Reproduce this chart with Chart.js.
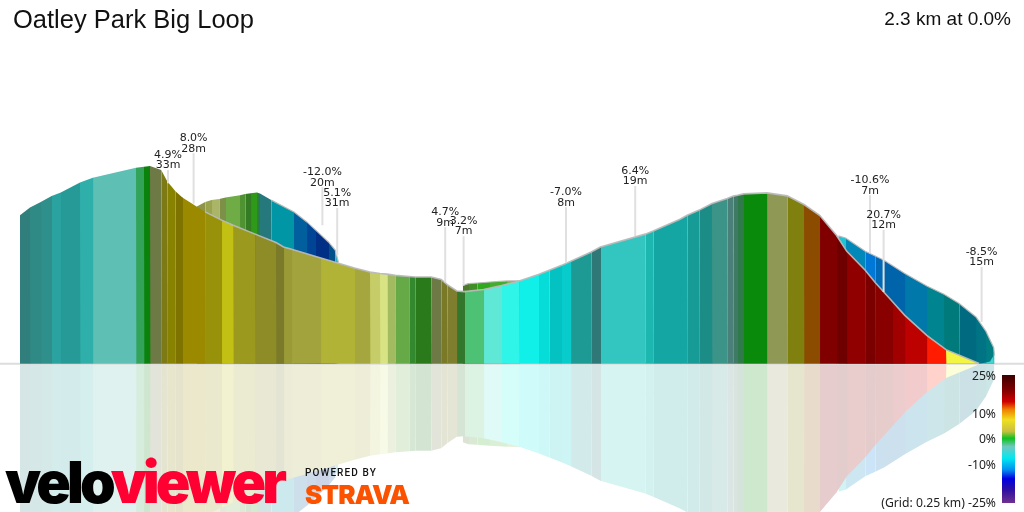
<!DOCTYPE html>
<html>
<head>
<meta charset="utf-8">
<title>Oatley Park Big Loop</title>
<script src="https://cdn.jsdelivr.net/npm/chart.js@4"></script>
<style>
    html, body { margin: 0; padding: 0; background: #fff; }
    #wrap { position: relative; width: 1024px; height: 512px; overflow: hidden; font-family: "Liberation Sans", Arial, sans-serif; }
    #profile { position: absolute; left: 0; top: 0; }
    .txt { position: absolute; white-space: nowrap; }
    #title { left: 13px; top: 5px; font-size: 25.5px; color: #111; }
    #summary { right: 13px; top: 8px; font-size: 19px; color: #111; }
    #colorbar { position: absolute; left: 1002px; top: 375px; width: 13px; height: 128px; }
    .grade { right: 28px; font: 12.2px "Noto Sans", sans-serif; color: #222; transform: translateY(-50%); }
    #logo { left: 5px; top: 447px; font: 900 58px Inter, sans-serif; letter-spacing: -4px; transform-origin: 0 0; transform: scaleX(0.985); }
    #logo .velo { color: #000; }
    #logo .viewer { color: #ff0033; }
    #powered { left: 305px; top: 467px; font: 500 10px Roboto, sans-serif; letter-spacing: 1.1px; color: #111; }
    #strava { left: 305px; top: 479px; font: 900 26px Inter, sans-serif; letter-spacing: -1px; color: #fc5200; }
</style>
</head>
<body>
<div id="wrap">
    <canvas id="profile" width="1024" height="512"></canvas>
    <div class="txt" id="title">Oatley Park Big Loop</div>
    <div class="txt" id="summary">2.3 km at 0.0%</div>
    <div id="colorbar"></div>
    <div class="txt" id="logo"><span class="velo">velo</span><span class="viewer">viewer</span></div>
    <div class="txt" id="powered">POWERED BY</div>
    <div class="txt" id="strava">STRAVA</div>
</div>
<script>
// front half of the loop, distance (m) and height above the base (m) at each colour change
const frontX = [0, 25, 52, 79, 102, 150, 182, 290, 310, 325, 353, 368, 388, 406, 463, 504, 533, 588, 640, 659, 679, 752, 836, 875, 900, 918, 938, 973, 988, 1028, 1053, 1068, 1092, 1111, 1159, 1204, 1248, 1296, 1323, 1354, 1377, 1428, 1451, 1563, 1583, 1650, 1668, 1698, 1730, 1768, 1783, 1794, 1809, 1867, 1918, 1960, 1999, 2041, 2067, 2113, 2138, 2182, 2212, 2267, 2315, 2398];
const frontY = [37.1, 39.05, 40.45, 41.9, 42.8, 45.3, 46.45, 48.95, 49.2, 49.4, 48.4, 45.6, 43.2, 41.55, 37.95, 35.9, 34.6, 32.4, 30.3, 29.2, 28.6, 26.45, 23.95, 22.95, 22.55, 22.4, 22.1, 21.8, 21.7, 21.7, 21.1, 19.8, 18.2, 18.05, 18.55, 19.55, 20.7, 22.3, 23.4, 24.6, 25.6, 27.95, 29.2, 32.4, 33.2, 36.1, 37.1, 38.4, 40.05, 41.3, 41.9, 42.1, 42.45, 42.7, 41.95, 39.8, 37.1, 32.1, 28.1, 23.4, 20.3, 15.45, 12.1, 7.1, 3.55, 0.1];
const frontColors = ["#317f7c", "#2f8a86", "#2f8f8b", "#2aa3a0", "#259a96", "#2fafa9", "#5ebfb5", "#33a35a", "#0b820b", "#6d7a45", "#7d7a16", "#878200", "#7f7300", "#9b8a00", "#98920a", "#c2c013", "#9b9a1f", "#8e8c26", "#7a7a2a", "#9a9a36", "#a3a33d", "#b0b336", "#a5a73e", "#c5cc68", "#d8e484", "#a2bb60", "#65aa46", "#338a2e", "#2a7a1c", "#6d7a45", "#7a7a26", "#7f7e2e", "#32772c", "#4ec274", "#5fe8d6", "#2ff5e8", "#10f0e8", "#06dcd8", "#04c2c2", "#08cccc", "#1e9a94", "#2e7878", "#33c6c0", "#1cb8b0", "#14a6a2", "#14a6a2", "#179b96", "#1c8c86", "#3c9488", "#4a7f7a", "#3f7a66", "#2f7a48", "#0a8a0a", "#8f9854", "#80800e", "#8c4c00", "#800000", "#6e0000", "#900000", "#7a0000", "#880000", "#a00000", "#bd0000", "#ff1c00", "#f2f542"];

// return half of the loop, three pieces that show behind the front
const backAX = [442, 463, 479, 498, 514, 550, 563, 577, 592, 600, 628, 685, 717, 739, 771, 788, 796];
const backAY = [39.3, 40.45, 40.9, 41.2, 41.55, 42.1, 42.4, 42.6, 42.8, 42.55, 40.9, 37.95, 35.45, 33.4, 30.45, 28.4, 25.4];
const backAColors = ["#8e9548", "#9aa34e", "#aab568", "#7d9048", "#6fac46", "#4f9232", "#347c24", "#2f9a1a", "#2a7d40", "#25797c", "#0096a6", "#005f9c", "#004496", "#002f85", "#00508c", "#2ab0c0"];

const backBX = [1107, 1121, 1143, 1175, 1217, 1250];
const backBY = [19.6, 20.05, 20.2, 20.45, 20.7, 20.75];
const backBColors = ["#4a7a2a", "#3f8f26", "#2ea81c", "#45ad2d", "#7fb04a"];

const backCX = [2046, 2064, 2113, 2138, 2160, 2212, 2267, 2310, 2348, 2390, 2415, 2434, 2436];
const backCY = [31.95, 31.45, 28.1, 26.95, 25.9, 22.55, 19.45, 17.4, 15.05, 11.7, 8.1, 4.1, 2.1];
const backCColors = ["#1cc4d4", "#0088b8", "#0078d8", "#0068b4", "#0064aa", "#0078aa", "#00848f", "#007a7a", "#006a80", "#007384", "#007e84", "#2fb8c0"];

// end wall where the loop closes
const capX = [2398, 2413, 2425, 2433, 2436];
const capY = [0.05, 0.25, 0.6, 1.9, 3.4];
const capColor = "#45d3d3";

// climb and descent notes
const noteX = [434, 370, 756, 793, 1063, 1109, 1365, 1538, 2125, 2159, 2404];
const noteTop = [52.6, 48.4, 44.1, 38.9, 34.1, 31.9, 39.1, 44.4, 42.1, 33.4, 24.2];
const noteBase = [40, 45.1, 34.6, 27.1, 20.4, 19.6, 25.2, 31.95, 27.6, 17.95, 10.45];
const noteGrades = ["8.0%", "4.9%", "-12.0%", "5.1%", "4.7%", "3.2%", "-7.0%", "6.4%", "-10.6%", "20.7%", "-8.5%"];
const noteClimbs = ["28m", "33m", "20m", "31m", "9m", "7m", "8m", "19m", "7m", "12m", "15m"];

// gradient key
const gradeLabels = ["25%", "10%", "0%", "-10%", "(Grid: 0.25 km) -25%"];
const gradeLabelTops = [374.5, 412.5, 437.5, 463.5, 501.5];
const keyStops = [0, 0.117, 0.208, 0.27, 0.35, 0.44, 0.495, 0.56, 0.65, 0.74, 0.81, 0.9, 1];
const keyColors = ["#3c0000", "#800000", "#d00000", "#f08000", "#f0e020", "#c8c040", "#10c020", "#70c8c0", "#00e8f0", "#0090f0", "#0000e0", "#3010a0", "#703090"];

const edgeColor = "rgba(185,185,185,0.95)";
// bands run a little under the next one so no white seam shows between them
const seam = 1.5;

function pale(hex) {
    let out = "#";
    for (let i = 1; i < 7; i += 2) {
        let c = parseInt(hex.substr(i, 2), 16);
        out += Math.round(c * 0.2 + 255 * 0.8).toString(16).padStart(2, "0");
    }
    return out;
}

function bands(xs, ys, colors, sign, order, tint) {
    return colors.map((color, i) => ({
        data: [
            { x: xs[i], y: ys[i] * sign },
            { x: xs[i + 1], y: ys[i + 1] * sign },
            { x: xs[i + 1] + (i < colors.length - 1 ? seam : 0), y: ys[i + 1] * sign },
        ],
        backgroundColor: tint ? pale(color) : color,
        borderWidth: 0,
        fill: "origin",
        pointRadius: 0,
        order: order,
    }));
}

function curve(xs, ys, sign, order, color, width) {
    return {
        data: xs.map((x, i) => ({ x: x, y: ys[i] * sign })),
        borderColor: color,
        borderWidth: width,
        fill: false,
        pointRadius: 0,
        order: order,
    };
}

let datasets = [];
// mirrored picture below the base line
datasets.push(...bands(backAX, backAY, backAColors, -1, 80, true));
datasets.push(...bands(backBX, backBY, backBColors, -1, 80, true));
datasets.push(...bands(backCX, backCY, backCColors, -1, 80, true));
datasets.push(...bands(frontX, frontY, frontColors, -1, 70, true));
// base line
datasets.push(curve([-50, 2510], [0, 0], 1, 60, "#dddddd", 2));
// the loop
datasets.push(...bands(backAX, backAY, backAColors, 1, 50, false));
datasets.push(...bands(backBX, backBY, backBColors, 1, 50, false));
datasets.push(...bands(backCX, backCY, backCColors, 1, 50, false));
datasets.push(curve(backAX.slice(10), backAY.slice(10), 1, 45, edgeColor, 1.2));
datasets.push(curve(backBX, backBY, 1, 45, edgeColor, 1.2));
datasets.push(curve(backCX, backCY, 1, 45, edgeColor, 1.2));
datasets.push(...bands(frontX, frontY, frontColors, 1, 40, false));
datasets.push(...bands(capX, capY, [capColor, capColor, capColor, capColor], 1, 40, false));
datasets.push(curve(frontX.slice(14), frontY.slice(14), 1, 30, edgeColor, 1.6));
// note leaders
noteX.forEach((x, i) => {
    datasets.push(curve([x, x], [noteTop[i], noteBase[i]], 1, 20, "#e0e0e0", 2));
});

const noteText = {
    id: "noteText",
    afterDatasetsDraw(chart) {
        const ctx = chart.ctx;
        ctx.save();
        ctx.font = '11px "DejaVu Sans"';
        ctx.fillStyle = "#222";
        ctx.textAlign = "center";
        ctx.textBaseline = "middle";
        noteX.forEach((x, i) => {
            const px = chart.scales.x.getPixelForValue(x);
            const py = chart.scales.y.getPixelForValue(noteTop[i]);
            ctx.fillText(noteGrades[i], px, py - 15);
            ctx.fillText(noteClimbs[i], px, py - 4.5);
        });
        ctx.restore();
    },
};

new Chart(document.getElementById("profile"), {
    type: "line",
    data: { datasets: datasets },
    options: {
        responsive: false,
        animation: false,
        events: [],
        layout: { padding: 0 },
        plugins: { legend: { display: false }, tooltip: { enabled: false } },
        scales: {
            x: { type: "linear", display: false, min: -50, max: 2510 },
            y: { type: "linear", display: false, min: -37, max: 90.875 },
        },
    },
    plugins: [noteText],
});

document.getElementById("colorbar").style.background =
    "linear-gradient(to bottom," + keyColors.map((c, i) => c + " " + keyStops[i] * 100 + "%").join(",") + ")";

const wrap = document.getElementById("wrap");
gradeLabels.forEach((label, i) => {
    let item = document.createElement("div");
    item.className = "txt grade";
    item.style.top = gradeLabelTops[i] + "px";
    item.innerHTML = label;
    wrap.appendChild(item);
});
</script>
</body>
</html>
